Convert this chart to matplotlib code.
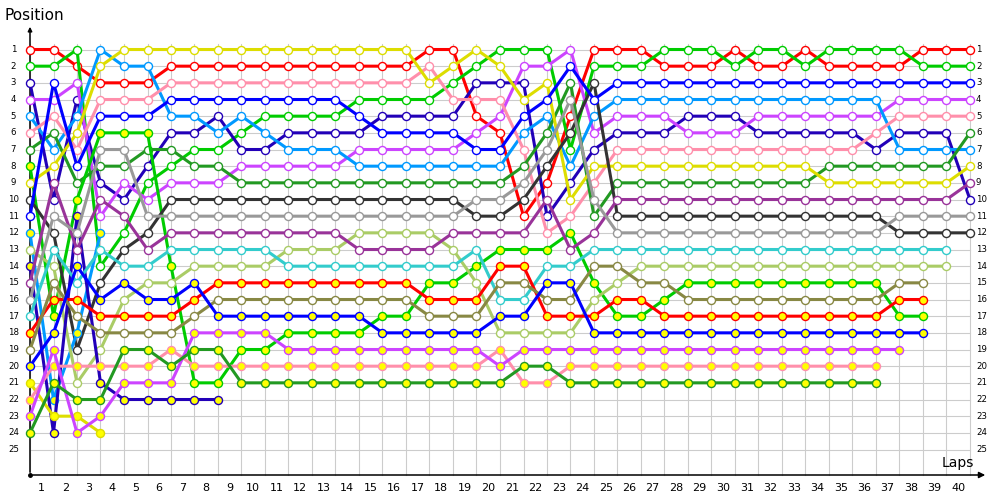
import matplotlib
matplotlib.use("Agg")
import matplotlib.pyplot as plt

# ---------------- data: position per lap (index 0 = starting grid) ----------------
red_h    = [1,1,2,3,3,3,2,2,2,2, 2,2,2,2,2,2,2,1,1,5, 6,11,9,5,1,1,1,2,2,2, 1,2,2,1,2,2,2,2,1,1, 1]
green_h  = [2,2,1,14,12,9,8,7,7,6, 5,5,5,5,4,4,4,4,3,2, 1,1,1,7,2,2,2,1,1,1, 2,1,1,2,1,1,1,1,2,2, 2]
blue_h   = [11,3,8,5,5,5,4,4,4,4, 4,4,4,4,5,6,6,6,6,7, 7,5,4,2,4,3,3,3,3,3, 3,3,3,3,3,3,3,3,3,3, 3]
sky_h    = [5,7,5,1,2,2,5,5,6,5, 6,7,7,7,8,8,8,8,8,8, 8,6,5,8,5,4,4,4,4,4, 4,4,4,4,4,4,4,7,7,7, 7]
pink_h   = [6,5,7,4,4,4,3,3,3,3, 3,3,3,3,3,3,3,2,4,4, 4,7,12,11,9,7,7,7,7,7, 7,7,7,7,7,7,6,5,5,5, 5]
yellow_h = [9,8,6,2,1,1,1,1,1,1, 1,1,1,1,1,1,1,3,2,1, 2,4,3,10,8,8,8,8,8,8, 8,8,8,8,9,9,9,9,9,9, 8]
navy_h   = [3,10,4,9,10,8,6,6,5,7, 7,6,6,6,6,5,5,5,5,3, 3,3,11,9,7,6,6,6,5,5, 5,6,6,6,6,6,7,6,6,6, 10]
violet_h = [4,4,3,11,9,10,9,9,9,8, 8,8,8,8,7,7,7,7,7,6, 5,2,2,1,6,5,5,5,6,6, 6,5,5,5,5,5,5,4,4,4, 4]
dgreen_h = [7,6,9,8,8,7,7,8,8,9, 9,9,9,9,9,9,9,9,9,9, 9,8,6,3,11,9,9,9,9,9, 9,9,9,9,8,8,8,8,8,8, 6]
black_h  = [10,12,19,15,13,12,10,10,10,10, 10,10,10,10,10,10,10,10,10,11, 11,10,8,6,3,11,11,11,11,11, 11,11,11,11,11,11,11,12,12,12, 12]
grey_h   = [16,11,12,7,7,11,11,11,11,11, 11,11,11,11,11,11,11,11,11,10, 10,9,7,4,10,12,12,12,12,12, 12,12,12,12,12,12,12,11,11,11, 11]
purple_h = [15,9,13,10,11,13,12,12,12,12, 12,12,12,12,13,13,13,13,12,12, 12,12,10,13,12,10,10,10,10,10, 10,10,10,10,10,10,10,10,10,10, 9]
cyan_h   = [17,13,15,13,14,14,13,13,13,13, 13,14,14,14,14,14,14,14,14,13, 16,16,14,14,13,13,13,13,13,13, 13,13,13,13,13,13,13,13,13,13]
lgreen_h = [13,14,21,19,16,15,15,14,14,14, 14,13,13,13,12,12,12,12,13,15, 18,18,18,18,16,15,14,14,14,14, 14,14,14,14,14,14,14,14,14,14]
olive_h  = [19,15,17,18,18,18,18,17,16,16, 16,16,16,16,16,16,16,17,17,17, 15,15,16,16,14,14,15,15,16,16, 16,16,16,16,16,16,16,15,15]
red_y    = [18,16,16,17,17,17,17,16,15,15, 15,15,15,15,15,15,15,16,16,16, 14,14,17,17,17,16,16,17,17,17, 17,17,17,17,17,17,17,16,16]
green_y  = [8,17,10,6,6,6,14,21,21,19, 19,18,18,18,18,17,17,15,15,14, 13,13,13,12,15,17,17,16,15,15, 15,15,15,15,15,15,15,17,17]
blue_y   = [20,18,14,16,15,16,16,15,17,17, 17,17,17,17,17,18,18,18,18,18, 17,17,15,15,18,18,18,18,18,18, 18,18,18,18,18,18,18,18,18]
violet_y = [23,19,24,23,21,21,21,18,18,18, 18,19,19,19,19,19,19,19,19,19, 20,19,19,19,19,19,19,19,19,19, 19,19,19,19,19,19,19,19]
pink_y   = [22,20,20,20,20,20,19,20,20,20, 20,20,20,20,20,20,20,20,20,20, 19,21,21,20,20,20,20,20,20,20, 20,20,20,20,20,20,20]
dgreen_y = [24,21,22,22,19,19,20,19,19,21, 21,21,21,21,21,21,21,21,21,21, 21,20,20,21,21,21,21,21,21,21, 21,21,21,21,21,21,21]
navy_y   = [14,24,11,21,22,22,22,22,22]
yellow_y = [21,23,23,24]
sky_y    = [12,22,18,12]

lap_labels = [str(i) for i in range(1, 41)]
pos_labels = [str(i) for i in range(1, 26)]

# ---------------- styling ----------------
C_RED, C_GREEN, C_BLUE, C_SKY = "#FF0000", "#00CC00", "#0000FF", "#0099FF"
C_PINK, C_YEL, C_NAVY, C_VIO = "#FF8FAB", "#DDDD00", "#2200B8", "#CC44FF"
C_DGR, C_BLK, C_GRY, C_PUR = "#229922", "#333333", "#999999", "#993399"
C_CYA, C_LGR, C_OLI = "#33CCCC", "#AACC66", "#888844"
WHITE, YFILL = "#FFFFFF", "#FFFF00"

series = [
    (red_h, C_RED, WHITE), (green_h, C_GREEN, WHITE), (navy_h, C_NAVY, WHITE),
    (violet_h, C_VIO, WHITE), (sky_h, C_SKY, WHITE), (pink_h, C_PINK, WHITE),
    (dgreen_h, C_DGR, WHITE), (green_y, C_GREEN, YFILL), (yellow_h, C_YEL, WHITE),
    (black_h, C_BLK, WHITE), (blue_h, C_BLUE, WHITE), (sky_y, C_SKY, YFILL),
    (lgreen_h, C_LGR, WHITE), (navy_y, C_NAVY, YFILL), (purple_h, C_PUR, WHITE),
    (grey_h, C_GRY, WHITE), (cyan_h, C_CYA, WHITE), (red_y, C_RED, YFILL),
    (olive_h, C_OLI, WHITE), (blue_y, C_BLUE, YFILL), (yellow_y, C_YEL, YFILL),
    (pink_y, C_PINK, YFILL), (violet_y, C_VIO, YFILL), (dgreen_y, C_DGR, YFILL),
]

# ---------------- figure (pixel-aligned data coordinates) ----------------
W, H = 1000, 500
X0, DX = 30.0, 23.5      # pixel x of lap 0, pixels per lap
Y1, DY = 49.5, 16.667    # pixel y of position 1, pixels per position

def lx(px):
    return (px - X0) / DX

def py(px):
    return 1 + (px - Y1) / DY

fig = plt.figure(figsize=(W / 100, H / 100), dpi=100)
ax = fig.add_axes([0, 0, 1, 1])
ax.set_xlim(lx(0), lx(W))
ax.set_ylim(py(H), py(0))
ax.axis("off")

n_laps = len(lap_labels)
n_pos = len(pos_labels)
axis_p = py(475)
grid_top = py(44)

# grid
for k in range(n_laps + 1):
    ax.plot([k, k], [grid_top, axis_p], color="#CCCCCC", lw=0.8, zorder=1)
for p in range(1, n_pos + 1):
    ax.plot([0, n_laps], [p, p], color="#CCCCCC", lw=0.8, zorder=1)

# axes with arrows
ax.annotate("", xy=(0, py(24)), xytext=(0, axis_p),
            arrowprops=dict(arrowstyle="-|>", color="black", lw=1.1,
                            mutation_scale=6), zorder=2)
ax.annotate("", xy=(lx(988), axis_p), xytext=(0, axis_p),
            arrowprops=dict(arrowstyle="-|>", color="black", lw=1.1,
                            mutation_scale=9), zorder=2)
ax.plot([0], [axis_p], "o", color="black", ms=2.5, zorder=3)

# tick labels
for i, lab in enumerate(pos_labels):
    p = i + 1
    ax.text(lx(13.5), p, lab, ha="center", va="center", fontsize=6.2, color="black")
    ax.text(lx(976), p, lab, ha="left", va="center", fontsize=6.2, color="black")
for i, lab in enumerate(lap_labels):
    ax.text(i + 0.5, py(488), lab, ha="center", va="center", fontsize=8, color="black")

ax.text(lx(4), py(15), "Position", ha="left", va="center", fontsize=11, color="black")
ax.text(lx(942), py(463), "Laps", ha="left", va="center", fontsize=10, color="black")

# series
for z, (vals, col, fill) in enumerate(series):
    xs = list(range(len(vals)))
    ax.plot(xs, vals, "-", color=col, lw=2.2, zorder=5 + z * 0.01,
            solid_capstyle="round", solid_joinstyle="round")
    ax.plot(xs, vals, "o", ms=5.8, mfc=fill, mec=col, mew=1.0, ls="none",
            zorder=5 + z * 0.01 + 0.005)

fig.savefig("out.png", dpi=100)
